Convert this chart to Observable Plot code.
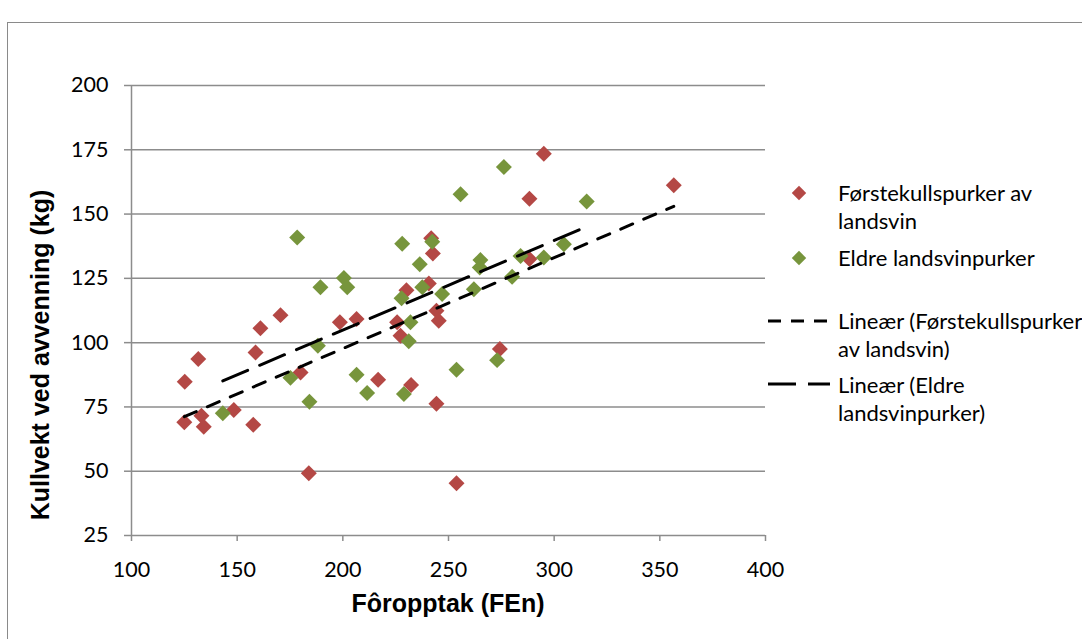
<!DOCTYPE html>
<html>
<head>
<meta charset="utf-8">
<script src="https://cdn.jsdelivr.net/npm/d3@7"></script>
<script src="https://cdn.jsdelivr.net/npm/@observablehq/plot@0.6"></script>
<style>
  html, body { margin: 0; padding: 0; background: #fff; }
  #wrap { position: relative; width: 1082px; height: 639px; overflow: hidden; background: #fff; }
  #frame { position: absolute; left: 7px; top: 22px; width: 1200px; height: 800px; border: 1.5px solid #8a8a8a; box-sizing: border-box; }
  #chart { position: absolute; left: 0; top: 0; }
  #overlay { position: absolute; left: 0; top: 0; pointer-events: none; }
</style>
</head>
<body>
<div id="wrap">
  <div id="frame"></div>
  <div id="chart"></div>
  <svg id="overlay" width="1082" height="639"></svg>
</div>
<script>
// Førstekullspurker av landsvin: fôropptak (FEn) and kullvekt ved avvenning (kg)
const foropptakForste = [125, 125.2, 131.6, 133.1, 134.2, 148.4, 157.6, 158.7, 161, 170.5, 180, 183.9,
  198.6, 206.5, 216.7, 225.7, 227.3, 230.1, 232.3, 240.7, 241.8, 242.6, 244.3, 245.4, 244.3, 253.8,
  274.3, 288.3, 288.3, 295.1, 356.6];
const kullvektForste = [69, 84.8, 93.6, 71.6, 67.3, 73.8, 68.1, 96.2, 105.6, 110.7, 88.4, 49.2,
  107.9, 109.2, 85.6, 107.9, 102.7, 120.4, 83.5, 123, 140.6, 134.7, 112.4, 108.5, 76.2, 45.3,
  97.5, 156, 132.5, 173.5, 161.2];

// Eldre landsvinpurker
const foropptakEldre = [143.2, 175.2, 178.4, 184.2, 188.2, 189.4, 200.5, 202.1, 206.5, 211.5, 227.8,
  228.1, 228.9, 231.2, 232, 236.4, 237.6, 242.3, 247, 253.8, 255.7, 262, 265.1, 264.8, 273, 276.2,
  280.1, 284.1, 295.1, 304.6, 315.4];
const kullvektEldre = [72.5, 86.3, 140.9, 77, 98.8, 121.5, 125.1, 121.5, 87.5, 80.4, 117.3,
  138.5, 80, 100.5, 107.9, 130.5, 121.5, 139.2, 118.9, 89.5, 157.7, 120.8, 132.1, 129.2, 93.2, 168.3,
  125.6, 133.7, 133.1, 138.3, 154.9];

const seriesNames = ["Førstekullspurker av landsvin", "Eldre landsvinpurker"];
const trendNames = ["Lineær (Førstekullspurker av landsvin)", "Lineær (Eldre landsvinpurker)"];
const xTicks = [100, 150, 200, 250, 300, 350, 400];
const yTicks = [25, 50, 75, 100, 125, 150, 175, 200];
const xTitle = "Fôropptak (FEn)";
const yTitle = "Kullvekt ved avvenning (kg)";

const RED = "#B44845";
const GREEN = "#77953C";
const GRID = "#8c8c8c";

const forste = foropptakForste.map((x, i) => ({x, y: kullvektForste[i]}));
const eldre = foropptakEldre.map((x, i) => ({x, y: kullvektEldre[i]}));

const chart = Plot.plot({
  width: 1082,
  height: 639,
  marginLeft: 131,
  marginRight: 317,
  marginTop: 85,
  marginBottom: 104,
  style: {fontFamily: "Lato, 'Noto Sans', sans-serif", fontSize: "21.5px", color: "black", background: "transparent", overflow: "visible"},
  x: {domain: [100, 400], label: null},
  y: {domain: [25, 200], label: null},
  marks: [
    Plot.gridY(yTicks, {stroke: GRID, strokeOpacity: 1, strokeWidth: 1.5}),
    Plot.ruleX([100], {stroke: GRID, strokeWidth: 1.5}),
    Plot.axisY(yTicks, {tickSize: 7, tickPadding: 16, stroke: GRID, strokeWidth: 1.5, fill: "black", label: null}),
    Plot.axisX(xTicks, {tickSize: 6, tickPadding: 20, stroke: GRID, strokeWidth: 1.5, fill: "black", label: null}),
    Plot.dot(forste, {x: "x", y: "y", symbol: "diamond2", r: 7.2, fill: RED, stroke: "none"}),
    Plot.dot(eldre, {x: "x", y: "y", symbol: "diamond2", r: 7.2, fill: GREEN, stroke: "none"}),
    Plot.linearRegressionY(forste, {x: "x", y: "y", ci: 0, stroke: "black", strokeWidth: 3, strokeDasharray: "13,12"}),
    Plot.linearRegressionY(eldre, {x: "x", y: "y", ci: 0, stroke: "black", strokeWidth: 3, strokeDasharray: "27,13"})
  ]
});
document.getElementById("chart").appendChild(chart);

// Axis titles and legend
const ov = d3.select("#overlay");
const titleFont = "'Liberation Sans', Arial, sans-serif";
ov.append("text")
  .attr("x", 448).attr("y", 612)
  .attr("text-anchor", "middle")
  .attr("font-family", titleFont).attr("font-weight", "bold").attr("font-size", 25)
  .text(xTitle);
ov.append("text")
  .attr("transform", "translate(49,355) rotate(-90)")
  .attr("text-anchor", "middle")
  .attr("font-family", titleFont).attr("font-weight", "bold").attr("font-size", 25)
  .text(yTitle);

const legendFont = "Lato, 'Noto Sans', sans-serif";
const lg = ov.append("g").attr("font-family", legendFont).attr("font-size", 22).attr("fill", "black");
const diamond = d3.symbol(d3.symbolDiamond2, Math.PI * 6.5 * 6.5);
function lines(g, x, y0, rows) {
  rows.forEach((t, i) => g.append("text").attr("x", x).attr("y", y0 + i * 28).text(t));
}
lg.append("path").attr("d", diamond()).attr("transform", "translate(799,193)").attr("fill", RED);
lines(lg, 838, 201, ["Førstekullspurker av", "landsvin"]);
lg.append("path").attr("d", diamond()).attr("transform", "translate(799,258)").attr("fill", GREEN);
lines(lg, 838, 266, [seriesNames[1]]);
lg.append("line").attr("x1", 768).attr("x2", 830).attr("y1", 321).attr("y2", 321)
  .attr("stroke", "black").attr("stroke-width", 3).attr("stroke-dasharray", "13,10");
lines(lg, 838, 329, ["Lineær (Førstekullspurker", "av landsvin)"]);
lg.append("line").attr("x1", 768).attr("x2", 830).attr("y1", 384).attr("y2", 384)
  .attr("stroke", "black").attr("stroke-width", 3).attr("stroke-dasharray", "28,12");
lines(lg, 838, 393, ["Lineær (Eldre", "landsvinpurker)"]);
</script>
</body>
</html>
